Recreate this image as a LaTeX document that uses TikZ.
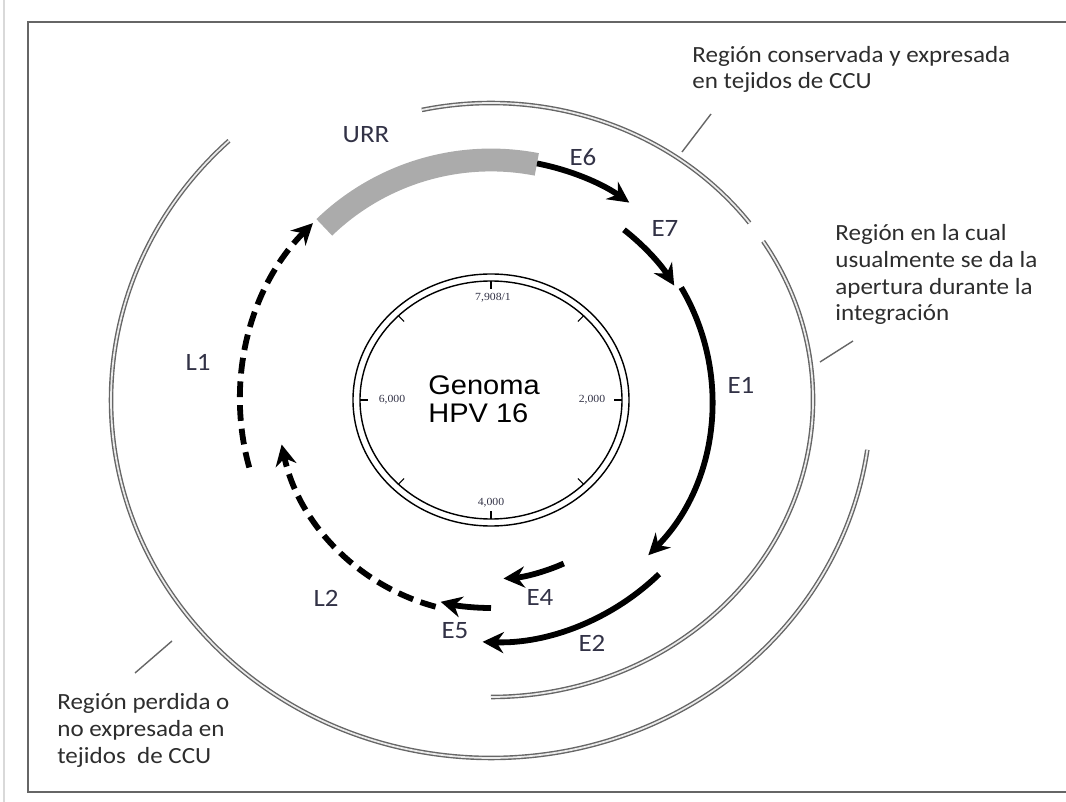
\documentclass[tikz,border=0pt]{standalone}
\usepackage{fontspec}
\setmainfont{Carlito}[FakeStretch=1.08]
\newfontfamily\genomafont{Liberation Sans}[FakeStretch=1.08]
\newfontfamily\tickfont{Liberation Serif}[FakeStretch=1.08]
\usetikzlibrary{arrows.meta}
\definecolor{lblcol}{RGB}{50,50,70}
\definecolor{notecol}{RGB}{45,45,45}

\begin{document}
\begin{tikzpicture}[
  x=0.02cm, y=0.02cm,
  ring/.style={draw=black!60, double=black!8, line width=0.8pt, double distance=1pt},
  gene/.style={line width=3.3pt, -{Stealth[length=12pt, width=12pt, inset=4pt]}},
  genedash/.style={gene, dash pattern=on 9pt off 4.5pt},
  lbl/.style={text=lblcol, font=\fontsize{14.2pt}{16pt}\selectfont, inner sep=0pt},
  note/.style={text=notecol, font=\fontsize{13.2pt}{15.3pt}\selectfont, align=left, anchor=base west, inner sep=0pt},
  leader/.style={draw=black!60, line width=0.8pt},
  tick/.style={text=lblcol, font=\tickfont\fontsize{6.2pt}{7pt}\selectfont, inner sep=0pt}
]
\useasboundingbox (0,0) rectangle (1066,802);
\draw[black!15, line width=0.6pt] (4,0) -- (4,802);
\draw[black!60, line width=1.4pt] (1066,780) -- (28,780) -- (28,10) -- (1066,10);

\coordinate (C) at (491,402);

% genome
\draw[line width=0.8pt] (C) ellipse [x radius=138, y radius=126];
\draw[line width=0.8pt] (C) ellipse [x radius=131, y radius=119];
\foreach \a in {0,45,...,315}
  \draw[line width=0.6pt] (C) ++(\a:131 and 119) -- ++({\a+180}:8);
\node[tick] (t0) at (493,504) {7,908/1};
\node[tick] (t2) at (592,402) {2,000};
\node[tick] (t4) at (491,299) {4,000};
\node[tick] (t6) at (392,402) {6,000};
\node[font=\genomafont\fontsize{15.3pt}{16.4pt}\selectfont, align=left, anchor=base west, inner sep=0pt] (gen) at (428,379) {Genoma\\HPV 16};

% genes
\draw[black!33, line width=13pt] (C) ++(134:240) arc[start angle=134, end angle=79, radius=240];
\draw[gene] (C) ++(79:241) arc[start angle=79, end angle=55, radius=241];
\draw[gene] (C) ++(52:216) arc[start angle=52, end angle=32, radius=216];
\draw[gene] (C) ++(30.6:221) arc[start angle=30.6, end angle=-44.6, radius=221];
\draw[gene] (C) ++(-46:242) arc[start angle=-46, end angle=-92, radius=242];
\draw[gene] (C) ++(-66:179) arc[start angle=-66, end angle=-86, radius=179];
\draw[gene] (C) ++(-90:208) arc[start angle=-90, end angle=-104, radius=208];
\draw[genedash] (C) ++(-105:214) arc[start angle=-105, end angle=-168, radius=214];
\draw[genedash] (C) ++(195.6:251) arc[start angle=195.6, end angle=135.2, radius=251];

\node[lbl] (urr) at (366,667) {URR};
\node[lbl] (e6) at (583,645) {E6};
\node[lbl] (e7) at (665,573) {E7};
\node[lbl] (e1) at (741,417) {E1};
\node[lbl] (e2) at (592,159) {E2};
\node[lbl] (e4) at (540,205) {E4};
\node[lbl] (e5) at (455,171) {E5};
\node[lbl] (l2) at (326,204) {L2};
\node[lbl] (l1) at (198,440) {L1};

% regions
\draw[ring] (C) ++(102.4:322 and 297) arc[start angle=102.4, end angle=36.6, x radius=322, y radius=297];
\draw[ring] (C) ++(32.3:322 and 297) arc[start angle=32.3, end angle=-90, x radius=322, y radius=297];
\draw[ring] (C) ++(133.6:380 and 358) arc[start angle=133.6, end angle=352, x radius=380, y radius=358];

\node[note] (cons) at (692,713) {Región conservada y expresada\\en tejidos de CCU};
\node[note] (integ) at (835,481) {Región en la cual\\usualmente se da la\\apertura durante la\\integración};
\node[note] (lost) at (57,39) {Región perdida o\\no expresada en\\tejidos\ \ de CCU};

\coordinate (p1) at (682,650);
\coordinate (q1) at (711,688);
\coordinate (p2) at (820,440);
\coordinate (q2) at (853,461);
\coordinate (p3) at (172,161);
\coordinate (q3) at (135,129);
\draw[leader] (p1) -- (q1);
\draw[leader] (p2) -- (q2);
\draw[leader] (p3) -- (q3);
\end{tikzpicture}
\end{document}
